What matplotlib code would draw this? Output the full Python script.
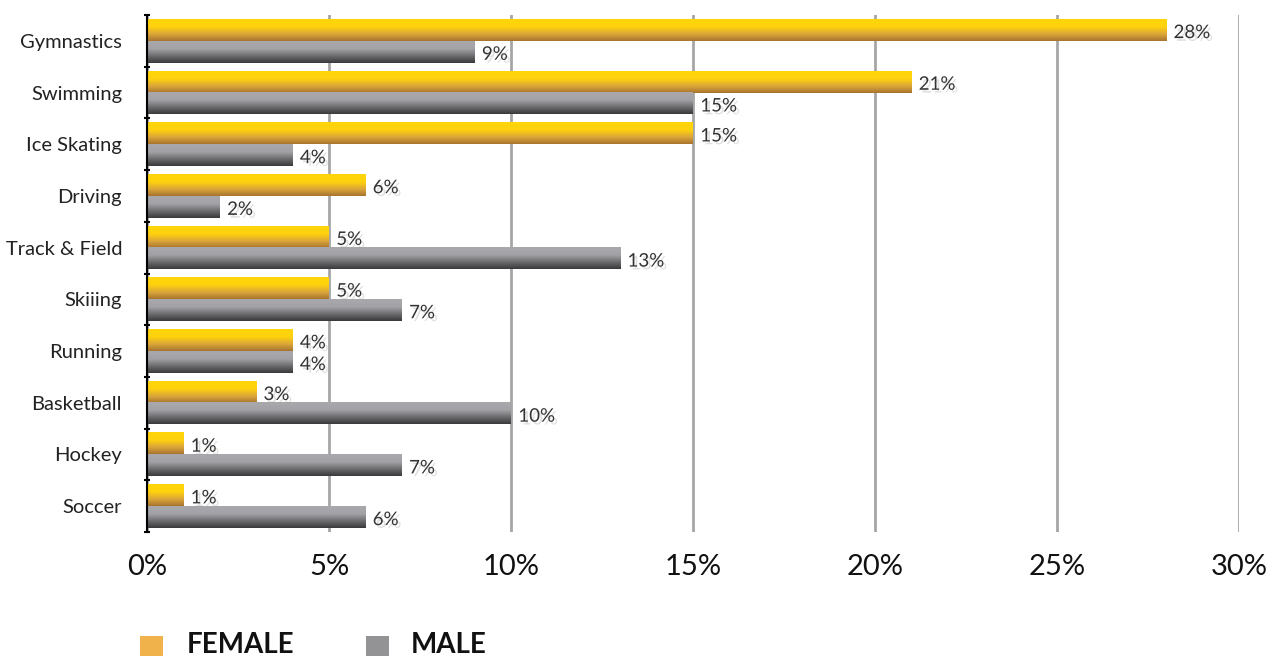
import numpy as np
import matplotlib
matplotlib.use("Agg")
import matplotlib.pyplot as plt
import matplotlib.patheffects as pe
from matplotlib.colors import LinearSegmentedColormap
from matplotlib.patches import Rectangle

categories = ["Gymnastics", "Swimming", "Ice Skating", "Driving", "Track & Field",
              "Skiiing", "Running", "Basketball", "Hockey", "Soccer"]
female = [28, 21, 15, 6, 5, 5, 4, 3, 1, 1]
male = [9, 15, 4, 2, 13, 7, 4, 10, 7, 6]
xticks = [0, 5, 10, 15, 20, 25, 30]

plt.rcParams['font.family'] = ['Lato', 'DejaVu Sans']

fig = plt.figure(figsize=(12.72, 6.56), dpi=100)
ax = fig.add_axes([147/1272, 1-532/656, (1239-147)/1272, (532-15)/656])

n = len(categories)
ypos = np.arange(n)
h = 0.42

fem_cmap = LinearSegmentedColormap.from_list("f", [(0, "#FFD60A"), (0.35, "#FFD20E"), (0.7, "#D9A43A"), (1, "#A8742E")])
male_cmap = LinearSegmentedColormap.from_list("m", [(0, "#A9A9AD"), (0.35, "#A3A3A7"), (0.75, "#616163"), (1, "#3A3A3C")])
grad = np.linspace(0, 1, 64).reshape(-1, 1)

bf = ax.barh(ypos - h/2, female, height=h, color="none", zorder=3)
bm = ax.barh(ypos + h/2, male, height=h, color="none", zorder=3)

def fill(bars, cmap):
    for b in bars:
        x0, y0 = b.get_x(), b.get_y()
        w, hh = b.get_width(), b.get_height()
        ax.imshow(grad, cmap=cmap, aspect='auto', extent=[x0, x0 + w, y0 + hh, y0],
                  origin='upper', zorder=3, interpolation='bilinear')

fill(bf, fem_cmap)
fill(bm, male_cmap)

for bars, vals in ((bf, female), (bm, male)):
    for b, v in zip(bars, vals):
        t = ax.text(v + 0.2, b.get_y() + b.get_height()/2 + 0.05, f"{v}%", va='center', ha='left',
                    fontsize=13.5, color="#333333", zorder=5)
        t.set_path_effects([pe.withSimplePatchShadow(offset=(2, -2), shadow_rgbFace="#999999", alpha=0.3)])

ax.set_xlim(0, 30)
ax.set_ylim(n - 0.5, -0.5)
ax.set_xticks(xticks)
ax.set_xticklabels([f"{t}%" for t in xticks], fontsize=21, color="#111111")
ax.set_yticks(ypos)
ax.set_yticklabels(categories, fontsize=14.5, color="#222222")
ax.tick_params(axis='y', length=0, pad=18)
ax.tick_params(axis='x', length=0, pad=16)
ax.set_yticks(np.arange(-0.5, n, 1), minor=True)
ax.tick_params(axis='y', which='minor', length=4, width=1.5, color='black', direction='inout')
for s in ("top", "right", "bottom"):
    ax.spines[s].set_visible(False)
ax.spines["left"].set_color("black")
ax.spines["left"].set_linewidth(1.5)
ax.spines["left"].set_zorder(6)
ax.grid(axis='x', color="#A6A6A6", linewidth=2, zorder=0)
ax.set_axisbelow(True)

# legend
fig.patches.append(Rectangle((140/1272, 0), 23/1272, 20/656, transform=fig.transFigure,
                             facecolor="#F0B24A", edgecolor="none"))
fig.patches.append(Rectangle((366/1272, 0), 23/1272, 20/656, transform=fig.transFigure,
                             facecolor="#939396", edgecolor="none"))
fig.text(187/1272, 1-653/656, "FEMALE", fontsize=20, fontweight='bold', va='baseline', ha='left', color="#111111")
fig.text(411/1272, 1-653/656, "MALE", fontsize=20, fontweight='bold', va='baseline', ha='left', color="#111111")

fig.savefig("out.png", dpi=100)
